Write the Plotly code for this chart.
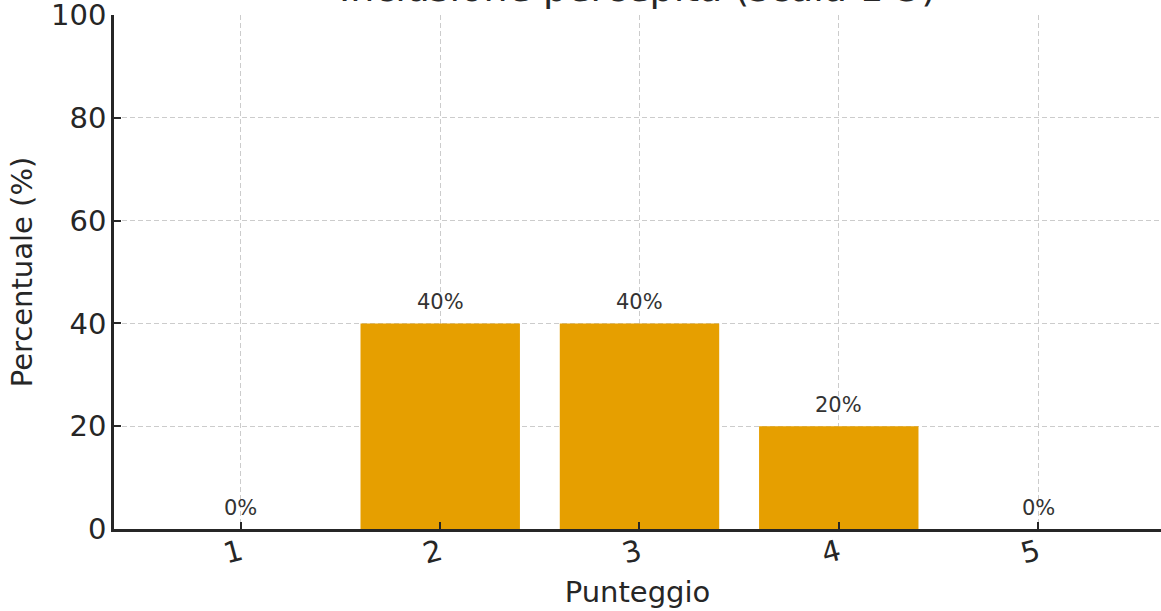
import plotly.graph_objects as go

# Distribution of scores on a 1-5 scale
categories = [1, 2, 3, 4, 5]
percentages = [0, 40, 40, 20, 0]
labels = [f"{v}%" for v in percentages]
title_text = "Inclusione percepita (scala 1-5)"

bar_color = "#E69F00"
text_color = "#262626"
font_family = "DejaVu Sans"

fig = go.Figure()
fig.add_trace(go.Bar(
    x=categories,
    y=percentages,
    width=0.8,
    marker=dict(color=bar_color, line=dict(width=0)),
    hoverinfo="skip",
))

# Value labels just above each bar
for xv, yv, lab in zip(categories, percentages, labels):
    fig.add_annotation(
        x=xv, y=yv, text=lab, showarrow=False,
        yanchor="bottom", yshift=7,
        font=dict(family=font_family, size=21, color="#333333"),
    )

# Title sits above the plotting area
fig.add_annotation(
    x=0.5, y=1, xref="paper", yref="paper",
    text=title_text, showarrow=False,
    yanchor="bottom", yshift=3,
    font=dict(family=font_family, size=38, color=text_color),
)

grid = dict(showgrid=True, gridcolor="#cccccc", griddash="5px,3px", gridwidth=1)
tick_style = dict(ticks="inside", ticklen=7, tickwidth=1.5, tickcolor="#262626",
                  ticklabeloverflow="allow", automargin=False)

fig.update_layout(
    width=1161, height=611,
    margin=dict(l=114, r=0, t=15, b=82),
    plot_bgcolor="white", paper_bgcolor="white",
    font=dict(family=font_family, color=text_color),
    showlegend=False,
    xaxis=dict(
        range=[0.363, 5.617],
        tickmode="array", tickvals=categories, ticktext=[str(c) for c in categories],
        tickangle=-15,
        tickfont=dict(size=29, color=text_color),
        ticklabelstandoff=-7,
        showline=True, linecolor="#262626", linewidth=2.5,
        title=dict(text="Punteggio", font=dict(size=29, color=text_color), standoff=13),
        zeroline=False,
        **tick_style,
        **grid,
    ),
    yaxis=dict(
        range=[0, 100],
        tickvals=[0, 20, 40, 60, 80, 100],
        tickfont=dict(size=29, color=text_color),
        ticklabelstandoff=-1,
        showline=True, linecolor="#262626", linewidth=2.5,
        title=dict(text="Percentuale (%)", font=dict(size=29, color=text_color), standoff=10),
        zeroline=False,
        **tick_style,
        **grid,
    ),
)

fig.write_html("out.html")
